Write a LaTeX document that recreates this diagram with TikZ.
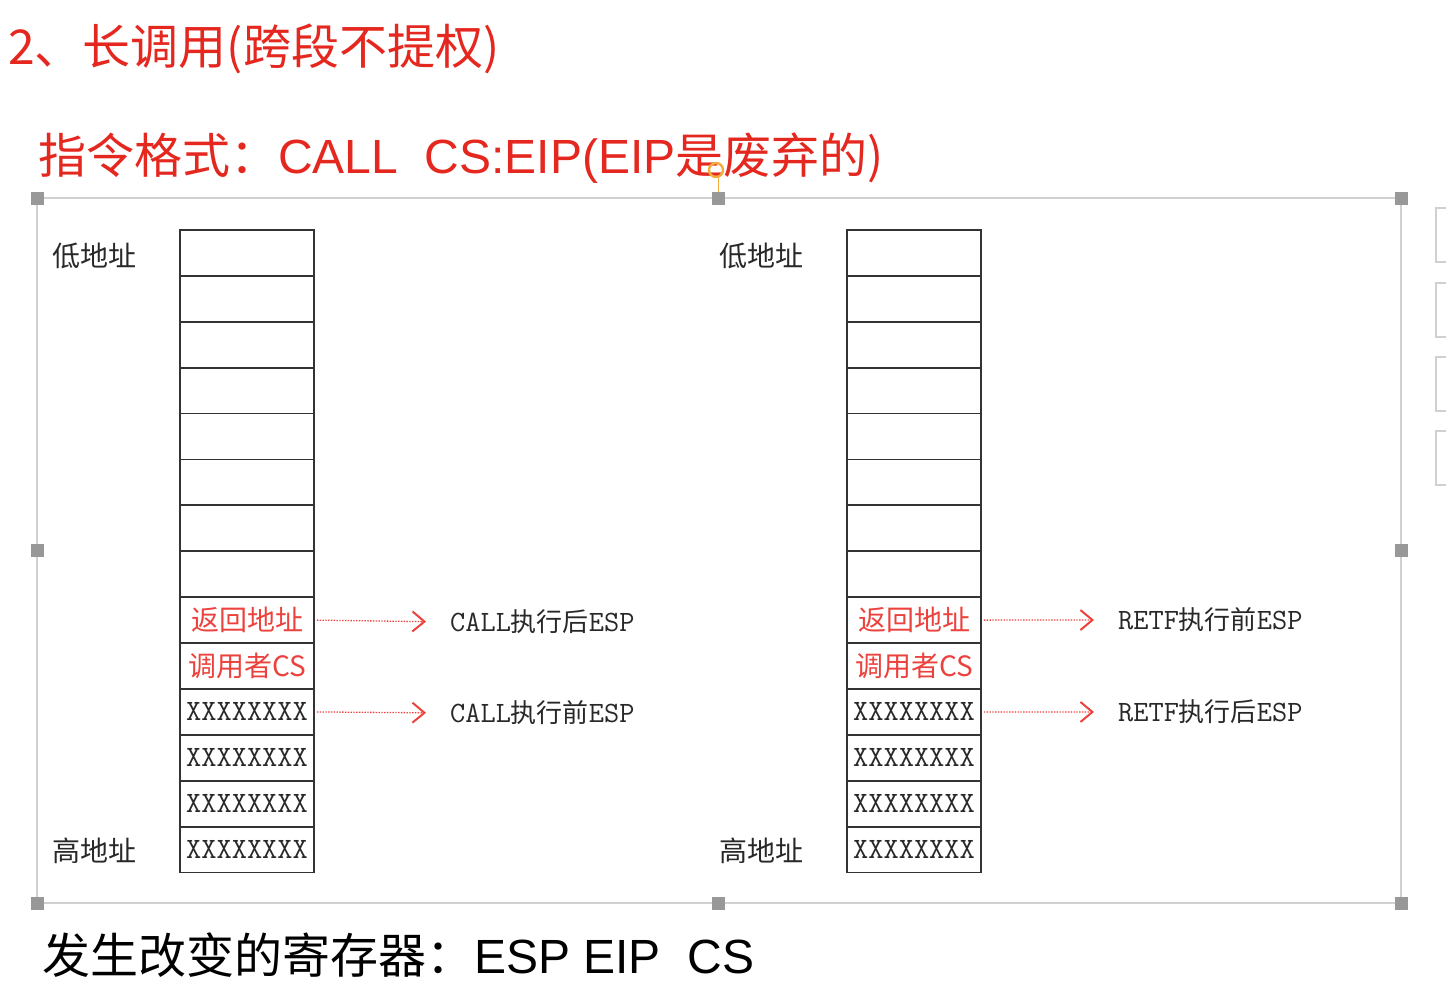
\documentclass[tikz,border=0pt]{standalone}
\usepackage{fontspec}
\usetikzlibrary{arrows.meta,positioning}
\setmainfont{Liberation Sans}
\newfontfamily\cjk{Noto Sans CJK SC}
\newfontfamily\latsans{Liberation Sans}
\newcommand\latmono{\ttfamily\fontsize{29.5}{29.5}\selectfont}
\definecolor{titlered}{RGB}{228,40,32}
\definecolor{cellred}{RGB}{236,66,62}
\definecolor{ink}{RGB}{40,40,40}
\definecolor{framegray}{RGB}{208,208,208}
\definecolor{handlegray}{RGB}{152,152,152}
\definecolor{rotorange}{RGB}{242,172,60}

\begin{document}
\begin{tikzpicture}[
    x=1pt, y=-1pt,
    cell/.style={draw=black!80, line width=1.8pt, minimum width=134pt,
        minimum height=45.9pt, inner sep=0pt},
    redcell/.style={cell, text=cellred, font=\cjk\fontsize{28}{28}\selectfont},
    xcell/.style={cell, text=ink, font=\latmono},
    addr/.style={inner sep=0pt, anchor=west, text=ink,
        font=\cjk\fontsize{28}{28}\selectfont},
    esp/.style={inner sep=0pt, anchor=west, text=ink,
        font=\cjk\fontsize{26}{26}\selectfont},
    espline/.style={draw=cellred, line width=1.3pt,
        dash pattern=on 1.4pt off 1.4pt, shorten <=2pt, shorten >=24pt,
        -{Straight Barb[length=12pt, width=20pt, line width=2pt]}},
    heading/.style={inner sep=0pt, anchor=west,
        font=\cjk\fontsize{48}{48}\selectfont},
    handle/.style={fill=handlegray, minimum size=13pt, inner sep=0pt},
]
    \useasboundingbox (0,0) rectangle (1446,993);
    \clip (0,0) rectangle (1446,993);

    %% headings
    \node[heading, text=titlered] (title) at (8,49) {2、长调用(跨段不提权)};
    \node[heading, text=titlered] (format) at (38,158)
        {指令格式：{\latsans CALL\ \ CS:EIP(EIP}是废弃的)};

    %% the selected frame round the two stacks, with its handles
    \draw[framegray, line width=2pt] (37,198) rectangle (1401,903);
    \foreach \x/\y in {37/198, 718/198, 1401/198, 37/550, 1401/550,
            37/903, 718/903, 1401/903}
        \node[handle] at (\x,\y) {};
    \draw[rotorange, line width=1pt] (718,178) -- (718,192);
    \draw[rotorange, line width=2.4pt] (716,170) circle (7);
    \foreach \y in {208, 283, 357, 431}
        \draw[framegray, line width=1.5pt] (1436,\y) rectangle (1470,\y+54);

    %% the two stacks: L before/after CALL, R before/after RETF
    \foreach \side/\x in {L/247, R/914}{
        \foreach \i in {1,...,8}
            \node[cell] (\side\i) at (\x, 207+45.9*\i) {};
        \node[redcell] (\side9) at (\x, 207+45.9*9) {返回地址};
        \node[redcell] (\side10) at (\x, 207+45.9*10) {调用者CS};
        \foreach \i in {11,...,14}
            \node[xcell] (\side\i) at (\x, 207+45.9*\i) {XXXXXXXX};
    }

    %% address direction
    \node[addr] (lowL) at (52,256) {低地址};
    \node[addr] (highL) at (52,851) {高地址};
    \node[addr] (lowR) at (719,256) {低地址};
    \node[addr] (highR) at (719,851) {高地址};

    %% where ESP points
    \node[esp] (callafter) at (450,622) {{\latmono CALL}执行后{\latmono ESP}};
    \node[esp] (callbefore) at (450,713) {{\latmono CALL}执行前{\latmono ESP}};
    \node[esp] (retfbefore) at (1118,620) {{\latmono RETF}执行前{\latmono ESP}};
    \node[esp] (retfafter) at (1118,712) {{\latmono RETF}执行后{\latmono ESP}};
    \draw[espline] (L9.east) -- (callafter.west);
    \draw[espline] (L11.east) -- (callbefore.west);
    \draw[espline] (R9.east) -- (retfbefore.west);
    \draw[espline] (R11.east) -- (retfafter.west);

    %% registers that change
    \node[heading, text=black] (regs) at (42,955)
        {发生改变的寄存器：{\latsans ESP EIP\ \ CS}};
\end{tikzpicture}
\end{document}
